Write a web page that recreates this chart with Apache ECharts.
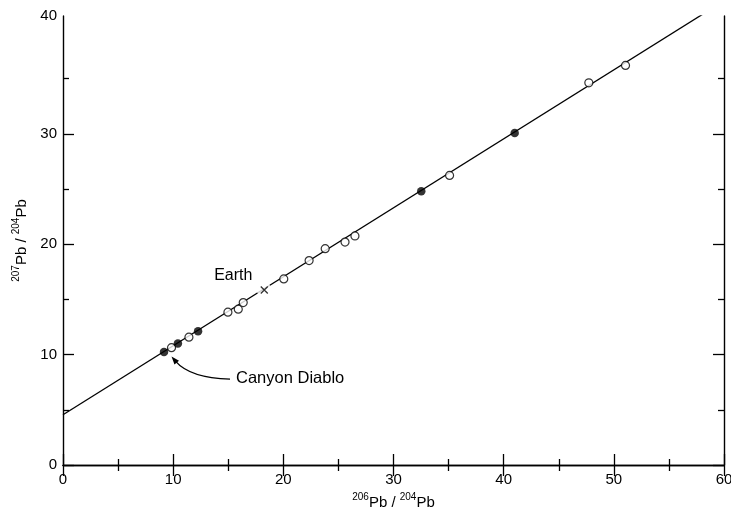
<!DOCTYPE html>
<html><head><meta charset="utf-8">
<script src="https://cdn.jsdelivr.net/npm/echarts@6/dist/echarts.min.js"></script>
<style>html,body{margin:0;padding:0;background:#fff}#c{width:731px;height:508px}</style>
</head><body><div id="c"></div>
<script>
// ---- data ----
const xMin = 0, xMax = 60, xStep = 10;
const yMin = 0, yTop = 40.68;
const yMajorTicks = [0, 10, 20, 30];
const yMinorTicks = [5, 15, 25, 35];
const yLabelValues = [0, 10, 20, 30, yTop];
const filledPts = [[9.17, 10.23], [10.43, 11.01], [12.26, 12.11], [32.52, 24.80], [41.0, 30.07]];
const openPts = [[9.85, 10.63], [11.43, 11.58], [14.97, 13.85], [15.91, 14.12], [16.36, 14.72],
  [20.04, 16.86], [22.34, 18.52], [23.8, 19.6], [25.6, 20.2], [26.5, 20.75],
  [35.09, 26.24], [47.73, 34.63], [51.06, 36.2]];
const earthPt = [[18.27, 15.86]];
const geochron = [[0, 4.55], [60, 42.05]];
const canyonDiablo = [9.17, 10.23];
const earthLabel = 'Earth';
const cdLabel = 'Canyon Diablo';

const FONT = '"Liberation Sans", Arial, Helvetica, sans-serif';
const chart = echarts.init(document.getElementById('c'), null, {renderer: 'canvas'});
const lineSty = {color: '#000', width: 1.4};
const tickSty = {color: '#000', width: 1.3};
const rich = {
  t: {fontSize: 15, fontFamily: FONT, color: '#000', lineHeight: 18, verticalAlign: 'bottom'},
  s: {fontSize: 10, fontFamily: FONT, color: '#000', lineHeight: 18, verticalAlign: 'top'}
};
function xAx(pos, withLabel) {
  return {
    type: 'value', position: pos, min: xMin, max: xMax, interval: xStep,
    axisLine: {show: true, lineStyle: lineSty},
    axisTick: {show: true, inside: true, length: 11, lineStyle: tickSty},
    minorTick: {show: true, splitNumber: 2, length: 6, lineStyle: tickSty},
    axisLabel: {show: withLabel, color: '#000', fontSize: 15, fontFamily: FONT, margin: 7},
    splitLine: {show: false},
    name: withLabel ? '{s|206}{t|Pb / }{s|204}{t|Pb}' : '',
    nameLocation: 'middle', nameGap: 24,
    nameTextStyle: {rich: rich}
  };
}
function yAx(pos, ticks, len, withLabel, showLine) {
  return {
    type: 'value', position: pos, min: yMin, max: yTop,
    axisLine: {show: showLine, lineStyle: lineSty},
    axisTick: {show: true, inside: true, length: len, lineStyle: tickSty, customValues: ticks},
    axisLabel: {show: withLabel, color: '#000', fontSize: 15, fontFamily: FONT, margin: 6,
      customValues: yLabelValues, showMaxLabel: true, showMinLabel: true,
      formatter: v => String(Math.floor(v / 10 + 1e-6) * 10)},
    splitLine: {show: false},
    name: withLabel ? '{s|207}{t|Pb / }{s|204}{t|Pb}' : '',
    nameLocation: 'middle', nameGap: 34, nameRotate: 90,
    nameTextStyle: {rich: rich}
  };
}
chart.setOption({
  animation: false,
  backgroundColor: '#fff',
  grid: {left: 63, right: 7, top: 16, bottom: 43, containLabel: false, outerBoundsMode: 'none'},
  xAxis: [xAx('bottom', true), xAx('top', false)],
  yAxis: [
    yAx('left', yMajorTicks, 11, true, true),
    yAx('left', yMinorTicks, 6, false, false),
    yAx('right', yMajorTicks, 11, false, true),
    yAx('right', yMinorTicks, 6, false, false)
  ],
  series: [
    {type: 'line', data: geochron, showSymbol: false, symbol: 'none', clip: true,
      lineStyle: {color: '#000', width: 1.3}, z: 1},
    {type: 'scatter', data: earthPt, symbol: 'circle', symbolSize: 15,
      itemStyle: {color: '#fff'}, z: 2, silent: true},
    {type: 'scatter', data: earthPt, symbol: 'path://M0,0L10,10M10,0L0,10', symbolSize: 7,
      itemStyle: {color: 'none', borderColor: '#000', borderWidth: 1.3}, z: 4},
    {type: 'scatter', data: openPts, symbol: 'circle', symbolSize: 8,
      itemStyle: {color: '#fff', borderColor: '#000', borderWidth: 1.2}, z: 3},
    {type: 'scatter', data: filledPts, symbol: 'circle', symbolSize: 8.5,
      itemStyle: {color: '#000'}, z: 3}
  ]
});

function annotate() {
  const cd = chart.convertToPixel({xAxisIndex: 0, yAxisIndex: 0}, canyonDiablo);
  const ep = chart.convertToPixel({xAxisIndex: 0, yAxisIndex: 0}, earthPt[0]);
  const S = [cd[0] + 66, cd[1] + 27], C = [cd[0] + 26, cd[1] + 26], E = [cd[0] + 7.5, cd[1] + 4.5];
  let dx = E[0] - C[0], dy = E[1] - C[1];
  const L = Math.hypot(dx, dy); dx /= L; dy /= L;
  const hl = 8, hw = 3;
  const B = [E[0] - dx * hl, E[1] - dy * hl];
  const head = [E, [B[0] - dy * hw, B[1] + dx * hw], [B[0] + dy * hw, B[1] - dx * hw]];
  chart.setOption({
    graphic: [
      {type: 'text', x: ep[0] - 31, y: ep[1] - 14, z: 10,
        style: {text: earthLabel, font: '16px ' + FONT, fill: '#000', align: 'center', verticalAlign: 'middle'}},
      {type: 'text', x: cd[0] + 72, y: cd[1] + 26, z: 10,
        style: {text: cdLabel, font: '16.5px ' + FONT, fill: '#000', align: 'left', verticalAlign: 'middle'}},
      {type: 'bezierCurve', z: 10,
        shape: {x1: S[0], y1: S[1], cpx1: C[0], cpy1: C[1], x2: B[0] + dx * 2, y2: B[1] + dy * 2},
        style: {stroke: '#000', lineWidth: 1.3, fill: null}},
      {type: 'polygon', z: 10, shape: {points: head}, style: {fill: '#000'}}
    ]
  });
}
annotate();
</script>
</body></html>
